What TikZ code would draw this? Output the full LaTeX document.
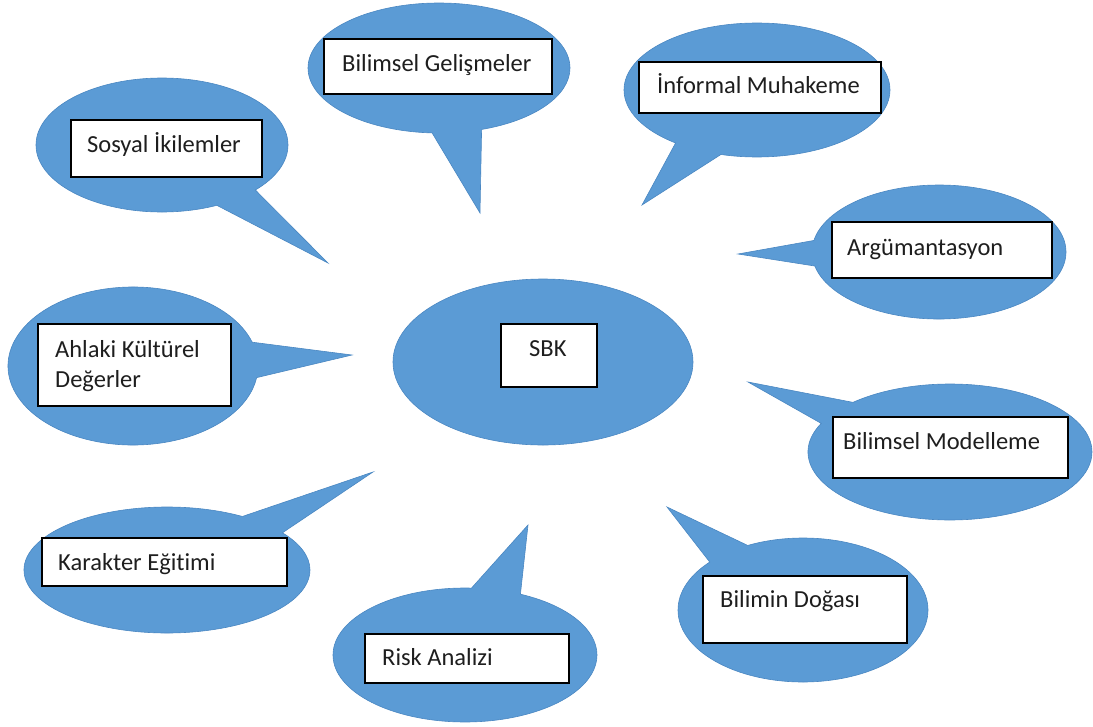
\documentclass[tikz,border=0pt]{standalone}
\usepackage{fontspec}
\setmainfont{Carlito}[Ligatures=NoCommon]
\usetikzlibrary{shapes.geometric,shapes.callouts}
\definecolor{bubble}{HTML}{5B9BD5}
\definecolor{bubbleedge}{HTML}{4A87C2}
\definecolor{ink}{HTML}{1E1E1E}
\begin{document}
\begin{tikzpicture}[x=1pt,y=-1pt,
  bubble/.style={ellipse callout, fill=bubble, draw=bubbleedge, line width=0.6pt,
                 inner sep=0pt, outer sep=0pt, callout pointer arc=22},
  hub/.style={ellipse, fill=bubble, draw=bubbleedge, line width=0.6pt, inner sep=0pt},
  tagbox/.style={draw=black, fill=white, line width=1.1pt, inner sep=0pt},
  lbl/.style={anchor=base west, inner sep=0pt, font=\fontsize{24.5}{30}\selectfont, text=ink}]
\useasboundingbox (0,0) rectangle (1093,726);

% central topic
\node[hub, minimum width=300pt, minimum height=166pt] (hub) at (543,362) {};
\node[tagbox, minimum width=96pt, minimum height=63pt] (hubbox) at (549,355.5) {};
\node[lbl] (hubtxt) at (529,356) {SBK};

% speech bubbles pointing at the centre
\node[bubble, minimum width=252pt, minimum height=134pt,
      callout absolute pointer={(328,263)}] (sosyal) at (162,145) {};
\node[bubble, minimum width=262pt, minimum height=130pt,
      callout absolute pointer={(480,213)}] (gelisme) at (439,68) {};
\node[bubble, minimum width=266pt, minimum height=134pt,
      callout absolute pointer={(642,205)}] (informal) at (757,90) {};
\node[bubble, minimum width=254pt, minimum height=134pt,
      callout absolute pointer={(738,254)}] (arguman) at (939,252) {};
\node[bubble, minimum width=284pt, minimum height=136pt,
      callout absolute pointer={(748,382)}] (model) at (950,452) {};
\node[bubble, minimum width=250pt, minimum height=144pt,
      callout absolute pointer={(667,507)}] (doga) at (803,610) {};
\node[bubble, minimum width=264pt, minimum height=134pt,
      callout absolute pointer={(528,525)}] (risk) at (465,655) {};
\node[bubble, minimum width=286pt, minimum height=126pt,
      callout absolute pointer={(373,472)}] (karakter) at (167,570) {};
\node[bubble, minimum width=250pt, minimum height=158pt, callout pointer arc=26,
      callout absolute pointer={(352,355)}] (ahlak) at (133,366) {};

% white label boxes
\node[tagbox, minimum width=191pt, minimum height=57pt] (sosyalbox) at (166.5,148.5) {};
\node[tagbox, minimum width=228pt, minimum height=55pt] (gelismebox) at (438,66.5) {};
\node[tagbox, minimum width=242pt, minimum height=51pt] (informalbox) at (760,87.5) {};
\node[tagbox, minimum width=220pt, minimum height=56pt] (argumanbox) at (942,250) {};
\node[tagbox, minimum width=235pt, minimum height=61pt] (modelbox) at (950.5,447.5) {};
\node[tagbox, minimum width=204pt, minimum height=67pt] (dogabox) at (805,609.5) {};
\node[tagbox, minimum width=204pt, minimum height=49pt] (riskbox) at (467,658.5) {};
\node[tagbox, minimum width=245pt, minimum height=48pt] (karakterbox) at (164.5,562) {};
\node[tagbox, minimum width=193pt, minimum height=82pt] (ahlakbox) at (134.5,365) {};

% labels
\node[lbl] (sosyaltxt) at (87,152) {Sosyal İkilemler};
\node[lbl] (gelismetxt) at (342,71) {Bilimsel Gelişmeler};
\node[lbl] (informaltxt) at (657,93) {İnformal Muhakeme};
\node[lbl] (argumantxt) at (847,255) {Argümantasyon};
\node[lbl] (modeltxt) at (843,449) {Bilimsel Modelleme};
\node[lbl] (dogatxt) at (720,607) {Bilimin Doğası};
\node[lbl] (risktxt) at (382,665) {Risk Analizi};
\node[lbl] (karaktertxt) at (58,570) {Karakter Eğitimi};
\node[lbl, align=left] (ahlaktxt) at (55,387) {Ahlaki Kültürel\\Değerler};
\end{tikzpicture}
\end{document}
